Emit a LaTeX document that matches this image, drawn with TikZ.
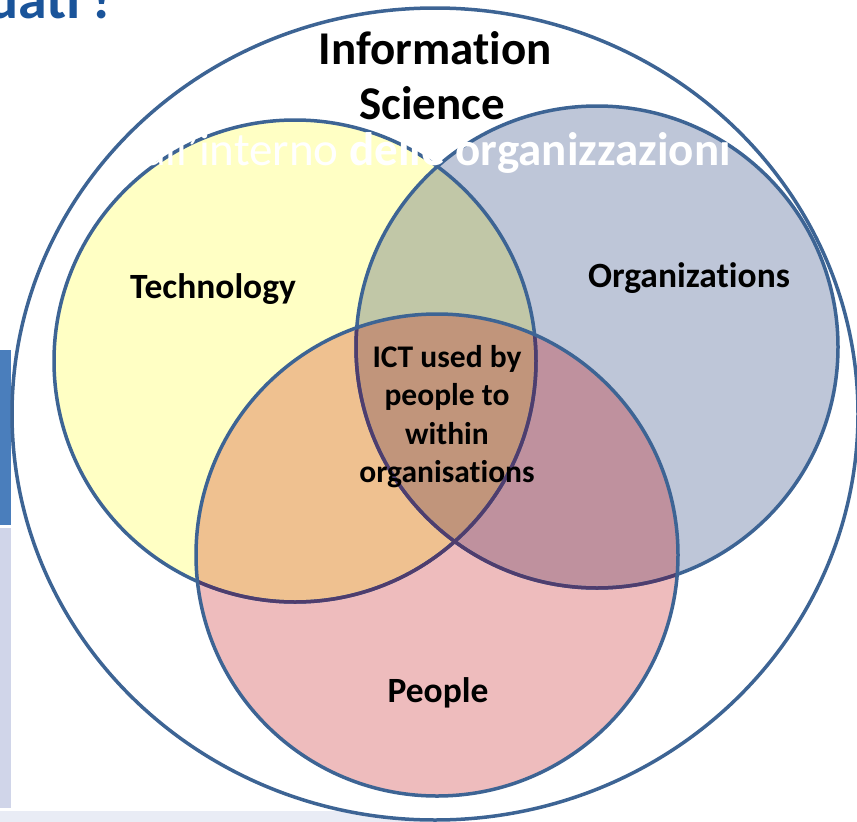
\documentclass[tikz,border=0pt]{standalone}
\usepackage{fontspec}
\setmainfont{Carlito}[Ligatures={TeX,NoCommon}]
\definecolor{edgeblue}{HTML}{3D6494}
\definecolor{edgepurple}{HTML}{4E3D6E}
\definecolor{techfill}{HTML}{FFFFC4}
\definecolor{orgfill}{HTML}{BEC6D8}
\definecolor{peoplefill}{HTML}{EEBCBD}
\definecolor{tofill}{HTML}{C1C7A7}
\definecolor{tpfill}{HTML}{EFC190}
\definecolor{opfill}{HTML}{BF919E}
\definecolor{allfill}{HTML}{C1957B}
\definecolor{titleblue}{HTML}{1A549A}
\definecolor{barblue}{HTML}{4A7EBC}
\definecolor{barlav}{HTML}{D0D5E9}
\definecolor{striplav}{HTML}{E9ECF5}
\begin{document}
\begin{tikzpicture}[x=1pt,y=-1pt,
  ring/.style={line width=3.5pt, draw=edgeblue},
  biglbl/.style={font=\fontsize{47}{56}\selectfont\bfseries, anchor=base, inner sep=0pt},
  setlbl/.style={font=\fontsize{35.5}{42}\selectfont\bfseries, anchor=base, inner sep=0pt},
  midlbl/.style={font=\fontsize{31.5}{38}\selectfont\bfseries, anchor=base, inner sep=0pt}]
\useasboundingbox (0,0) rectangle (857,822);
\clip (0,0) rectangle (857,822);
\coordinate (cIS) at (435,414);
\coordinate (cT) at (295,361);
\coordinate (cO) at (597,347);
\coordinate (cP) at (437,555);
% slide background pieces
\fill[barblue] (0,350) rectangle (11,525);
\fill[barlav] (0,528) rectangle (11,808);
\fill[striplav] (0,811) rectangle (420,822);
\node[font=\fontsize{58}{64}\selectfont\bfseries, text=titleblue, anchor=base west, inner sep=0pt] (title) at (-13,18) {uati\kern9pt?};
% outer set
\filldraw[fill=white, ring] (cIS) ellipse [x radius=423pt, y radius=406pt];
% fills
\fill[techfill] (cT) circle [radius=241pt];
\fill[orgfill] (cO) circle [radius=241pt];
\fill[peoplefill] (cP) circle [radius=241pt];
\begin{scope}
  \clip (cT) circle [radius=241pt];
  \fill[tofill] (cO) circle [radius=241pt];
  \fill[tpfill] (cP) circle [radius=241pt];
\end{scope}
\begin{scope}
  \clip (cO) circle [radius=241pt];
  \fill[opfill] (cP) circle [radius=241pt];
\end{scope}
\begin{scope}
  \clip (cT) circle [radius=241pt];
  \clip (cO) circle [radius=241pt];
  \fill[allfill] (cP) circle [radius=241pt];
\end{scope}
% outlines
\draw[ring] (cT) circle [radius=241pt];
\draw[ring] (cO) circle [radius=241pt];
\begin{scope}
  \clip (cP) circle [radius=241pt];
  \draw[ring, draw=edgepurple] (cT) circle [radius=241pt];
  \draw[ring, draw=edgepurple] (cO) circle [radius=241pt];
\end{scope}
\draw[ring] (cP) circle [radius=241pt];
% labels
\node[biglbl] (is1) at (435,64) {Information};
\node[biglbl] (is2) at (432,119) {Science};
\node[setlbl] (tech) at (213,298) {Technology};
\node[setlbl] (org) at (689,287) {Organizations};
\node[setlbl] (ppl) at (438,702) {People};
\node[midlbl] (ict1) at (447,367) {ICT used by};
\node[midlbl] (ict2) at (447,405.5) {people to};
\node[midlbl] (ict3) at (447,444) {within};
\node[midlbl] (ict4) at (447,482.5) {organisations};
% white overlay text of the slide
\node[font=\fontsize{47}{56}\selectfont, text=white, anchor=base west, inner sep=0pt] (overlay) at (143,165) {all'interno \textbf{delle organizzazioni}};
\end{tikzpicture}
\end{document}
